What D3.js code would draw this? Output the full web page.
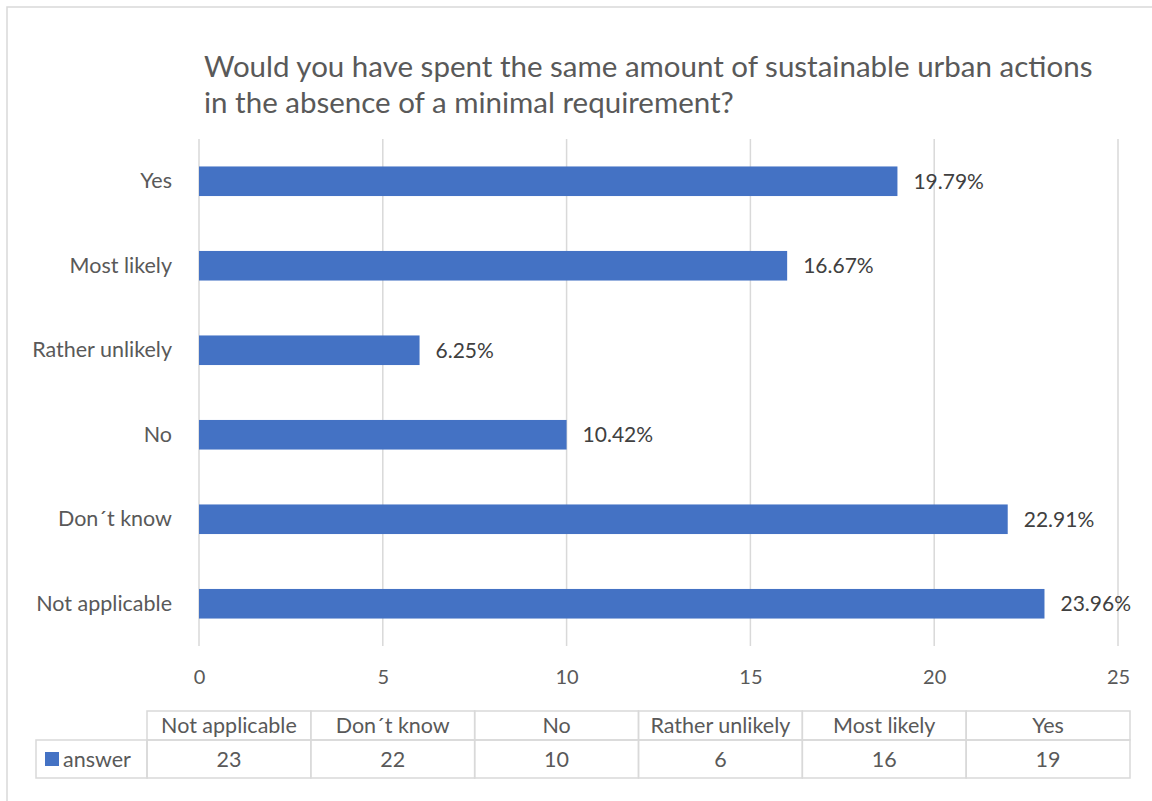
<!DOCTYPE html>
<html>
<head>
<meta charset="utf-8">
<script src="https://cdn.jsdelivr.net/npm/d3@7"></script>
<style>
    body { margin: 0; background: #fff; }
    text { font-family: Lato, "Open Sans", sans-serif; }
</style>
</head>
<body>
<svg></svg>
<script>
// chart values, top bar first
const categories = ["Yes", "Most likely", "Rather unlikely", "No", "Don´t know", "Not applicable"]
const answers = [19, 16, 6, 10, 22, 23]
const percentLabels = ["19.79%", "16.67%", "6.25%", "10.42%", "22.91%", "23.96%"]
const xTicks = [0, 5, 10, 15, 20, 25]
const seriesName = "answer"
const titleLines = [
    "Would you have spent the same amount of sustainable urban actions",
    "in the absence of a minimal requirement?"
]

const svg = d3.select("svg")
    .attr("width", 1152)
    .attr("height", 801)

const textColor = "#595959"
const gridColor = "#D9D9D9"
const barColor = "#4472C4"

// outer chart frame (runs off the right and bottom edge)
svg.append("rect")
    .attr("x", 7)
    .attr("y", 7)
    .attr("width", 1300)
    .attr("height", 1000)
    .attr("fill", "none")
    .attr("stroke", gridColor)
    .attr("stroke-width", 1.5)

// title
svg.append("text")
    .attr("fill", textColor)
    .attr("font-size", 29.5)
    .selectAll("tspan")
    .data(titleLines)
    .enter()
    .append("tspan")
    .attr("x", 204)
    .attr("y", (d, i) => 77 + i * 36)
    .text(d => d)

const scaleX = d3.scaleLinear()
    .domain([0, 25])
    .range([199, 1118])

const scaleY = d3.scaleBand()
    .domain(categories)
    .range([139, 646])
    .paddingInner(0.65)
    .paddingOuter(0.325)

// gridlines
svg.selectAll("line.grid")
    .data(xTicks)
    .enter()
    .append("line")
    .attr("class", "grid")
    .attr("x1", d => scaleX(d))
    .attr("x2", d => scaleX(d))
    .attr("y1", 139)
    .attr("y2", 646)
    .attr("stroke", gridColor)
    .attr("stroke-width", 1.5)

// x axis tick labels
const xAxis = d3.axisBottom(scaleX)
    .tickValues(xTicks)
    .tickSize(0)
    .tickPadding(0)

const xAxisG = svg.append("g")
    .attr("transform", "translate(0,684)")
    .call(xAxis)

xAxisG.select(".domain").remove()
xAxisG.selectAll("text")
    .attr("fill", textColor)
    .attr("font-size", 20)
    .attr("font-family", "Lato, sans-serif")
    .attr("dy", 0)

// category labels
const yAxis = d3.axisLeft(scaleY)
    .tickSize(0)
    .tickPadding(0)

const yAxisG = svg.append("g")
    .attr("transform", "translate(172,0)")
    .call(yAxis)

yAxisG.select(".domain").remove()
yAxisG.selectAll("text")
    .attr("fill", textColor)
    .attr("font-size", 21.5)
    .attr("font-family", "Lato, sans-serif")

// bars
const rows = categories.map((c, i) => ({ category: c, value: answers[i], label: percentLabels[i] }))

svg.selectAll("rect.bar")
    .data(rows)
    .enter()
    .append("rect")
    .attr("class", "bar")
    .attr("x", scaleX(0))
    .attr("y", d => scaleY(d.category))
    .attr("width", d => scaleX(d.value) - scaleX(0))
    .attr("height", scaleY.bandwidth())
    .attr("fill", barColor)

// data labels
svg.selectAll("text.value")
    .data(rows)
    .enter()
    .append("text")
    .attr("class", "value")
    .attr("x", d => scaleX(d.value) + 16)
    .attr("y", d => scaleY(d.category) + scaleY.bandwidth() / 2)
    .attr("dy", "0.35em")
    .attr("fill", "#404040")
    .attr("font-size", 21)
    .text(d => d.label)

// data table under the axis, categories in axis order (bottom bar first)
const tableCats = categories.slice().reverse()
const tableVals = answers.slice().reverse()

const headTop = 711, rowTop = 740, rowBottom = 778
const legendLeft = 36

const scaleCol = d3.scaleBand()
    .domain(tableCats)
    .range([147, 1130])

const table = svg.append("g")
    .attr("stroke", gridColor)
    .attr("stroke-width", 1.5)
    .attr("fill", "none")

// header row and value row cells
table.selectAll("rect.head")
    .data(tableCats)
    .enter()
    .append("rect")
    .attr("class", "head")
    .attr("x", d => scaleCol(d))
    .attr("y", headTop)
    .attr("width", scaleCol.bandwidth())
    .attr("height", rowTop - headTop)

table.selectAll("rect.cell")
    .data(tableCats)
    .enter()
    .append("rect")
    .attr("class", "cell")
    .attr("x", d => scaleCol(d))
    .attr("y", rowTop)
    .attr("width", scaleCol.bandwidth())
    .attr("height", rowBottom - rowTop)

table.append("rect")
    .attr("x", legendLeft)
    .attr("y", rowTop)
    .attr("width", scaleCol(tableCats[0]) - legendLeft)
    .attr("height", rowBottom - rowTop)

svg.selectAll("text.head")
    .data(tableCats)
    .enter()
    .append("text")
    .attr("class", "head")
    .attr("x", d => scaleCol(d) + scaleCol.bandwidth() / 2)
    .attr("y", 725)
    .attr("dy", "0.35em")
    .attr("text-anchor", "middle")
    .attr("fill", textColor)
    .attr("font-size", 21.5)
    .text(d => d)

svg.selectAll("text.cell")
    .data(tableCats)
    .enter()
    .append("text")
    .attr("class", "cell")
    .attr("x", d => scaleCol(d) + scaleCol.bandwidth() / 2)
    .attr("y", 759)
    .attr("dy", "0.35em")
    .attr("text-anchor", "middle")
    .attr("fill", textColor)
    .attr("font-size", 21.5)
    .text((d, i) => tableVals[i])

// legend key in the table
svg.append("rect")
    .attr("x", 45)
    .attr("y", 752)
    .attr("width", 14)
    .attr("height", 14)
    .attr("fill", barColor)

svg.append("text")
    .attr("x", 63)
    .attr("y", 759)
    .attr("dy", "0.35em")
    .attr("fill", textColor)
    .attr("font-size", 21.5)
    .text(seriesName)
</script>
</body>
</html>
